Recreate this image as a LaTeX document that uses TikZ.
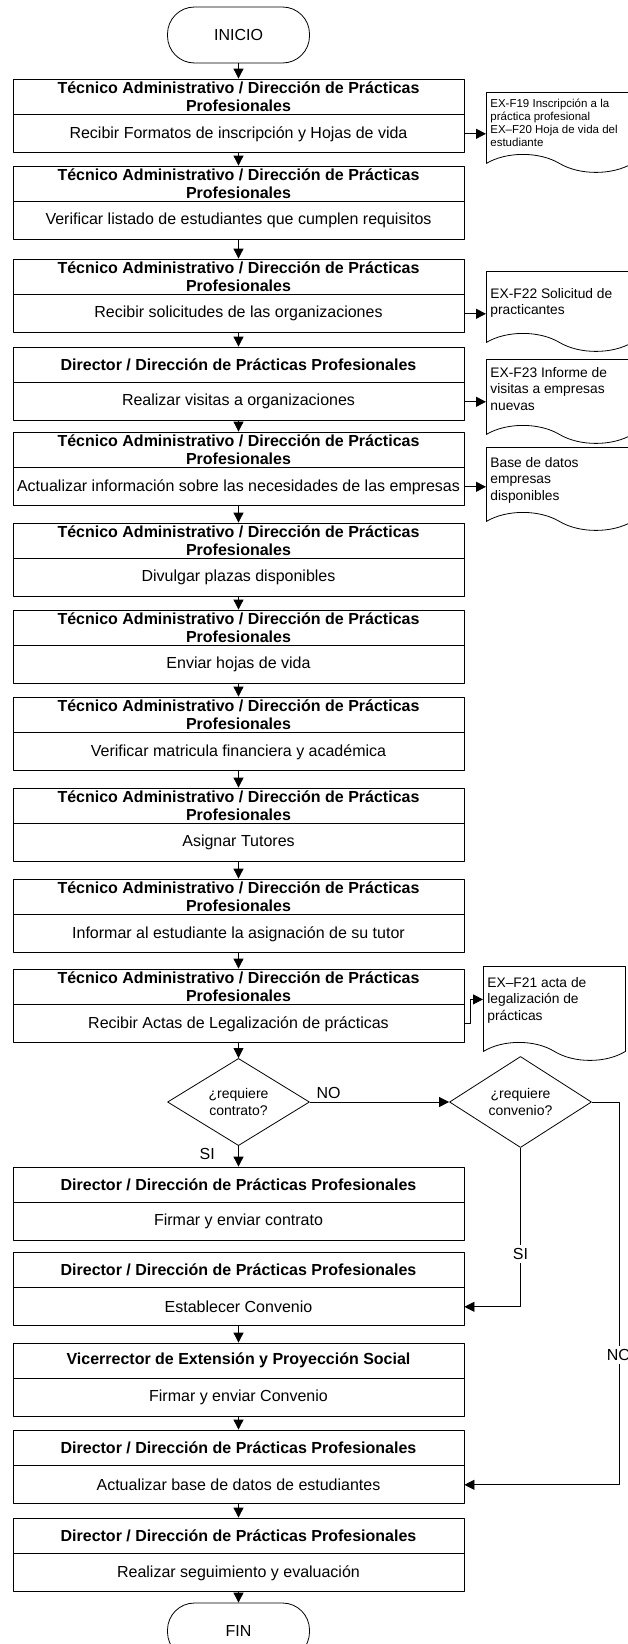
\documentclass[tikz,border=0pt]{standalone}
\usepackage{fontspec}
\setmainfont{Liberation Sans}
\usetikzlibrary{arrows.meta,shapes.geometric,shapes.symbols}
\tikzset{
  head/.style={draw,minimum width=451pt,minimum height=35pt,inner sep=0pt,align=center,font=\fontsize{16}{18}\selectfont\bfseries},
  body/.style={draw,anchor=north,minimum width=451pt,minimum height=38pt,inner sep=0pt,font=\fontsize{16}{18}\selectfont},
  term/.style={draw,rounded corners=27pt,minimum width=142pt,minimum height=56pt,font=\fontsize{16}{18}\selectfont},
  decision/.style={draw,diamond,minimum width=142pt,minimum height=84pt,inner sep=0pt,align=center,font=\fontsize{14}{17}\selectfont},
  doc/.style={draw,tape,tape bend top=none,tape bend bottom=out and in,tape bend height=18pt,anchor=north west,minimum width=146pt,inner sep=0pt},
  doctext/.style={anchor=north west,inner sep=0pt,align=left,font=\fontsize{13.8}{16.5}\selectfont},
  lbl/.style={font=\fontsize{16}{18}\selectfont}
}
\begin{document}
\begin{tikzpicture}[x=1pt,y=-1pt,>={Triangle[length=10pt,width=10pt]},line width=0.8pt,line join=round]
\useasboundingbox (0,0) rectangle (628,1644);
\node[term] (ini) at (238.5,35) {INICIO};
\node[head] (h1) at (238.5,96.5) {Técnico Administrativo / Dirección de Prácticas\\Profesionales};
\node[body] (b1) at (h1.south) {Recibir Formatos de inscripción y Hojas de vida};
\node[head] (h2) at (238.5,183.5) {Técnico Administrativo / Dirección de Prácticas\\Profesionales};
\node[body] (b2) at (h2.south) {Verificar listado de estudiantes que cumplen requisitos};
\node[head] (h3) at (238.5,276.5) {Técnico Administrativo / Dirección de Prácticas\\Profesionales};
\node[body] (b3) at (h3.south) {Recibir solicitudes de las organizaciones};
\node[head] (h4) at (238.5,364.5) {Director / Dirección de Prácticas Profesionales};
\node[body] (b4) at (h4.south) {Realizar visitas a organizaciones};
\node[head] (h5) at (238.5,449.5) {Técnico Administrativo / Dirección de Prácticas\\Profesionales};
\node[body] (b5) at (h5.south) {Actualizar información sobre las necesidades de las empresas};
\node[head] (h6) at (238.5,540.5) {Técnico Administrativo / Dirección de Prácticas\\Profesionales};
\node[body] (b6) at (h6.south) {Divulgar plazas disponibles};
\node[head] (h7) at (238.5,627.5) {Técnico Administrativo / Dirección de Prácticas\\Profesionales};
\node[body] (b7) at (h7.south) {Enviar hojas de vida};
\node[head] (h8) at (238.5,714.5) {Técnico Administrativo / Dirección de Prácticas\\Profesionales};
\node[body] (b8) at (h8.south) {Verificar matricula financiera y académica};
\node[head] (h9) at (238.5,805.5) {Técnico Administrativo / Dirección de Prácticas\\Profesionales};
\node[body] (b9) at (h9.south) {Asignar Tutores};
\node[head] (h10) at (238.5,896.5) {Técnico Administrativo / Dirección de Prácticas\\Profesionales};
\node[body] (b10) at (h10.south) {Informar al estudiante la asignación de su tutor};
\node[head] (h11) at (238.5,986.5) {Técnico Administrativo / Dirección de Prácticas\\Profesionales};
\node[body] (b11) at (h11.south) {Recibir Actas de Legalización de prácticas};
\node[decision] (q1) at (238.5,1102) {¿requiere\\contrato?};
\node[decision] (q2) at (520.5,1102) {¿requiere\\convenio?};
\node[head] (h12) at (238.5,1184.5) {Director / Dirección de Prácticas Profesionales};
\node[body] (b12) at (h12.south) {Firmar y enviar contrato};
\node[head] (h13) at (238.5,1269.5) {Director / Dirección de Prácticas Profesionales};
\node[body] (b13) at (h13.south) {Establecer Convenio};
\node[head] (h14) at (238.5,1360.5) {Vicerrector de Extensión y Proyección Social};
\node[body] (b14) at (h14.south) {Firmar y enviar Convenio};
\node[head] (h15) at (238.5,1447.5) {Director / Dirección de Prácticas Profesionales};
\node[body] (b15) at (h15.south) {Actualizar base de datos de estudiantes};
\node[head] (h16) at (238.5,1535.5) {Director / Dirección de Prácticas Profesionales};
\node[body] (b16) at (h16.south) {Realizar seguimiento y evaluación};
\node[term] (fin) at (238.5,1631) {FIN};
\node[doc,minimum height=80pt] (d1) at (486,92) {};
\node[doctext,font=\fontsize{11.5}{13}\selectfont] (t1) at (490,98.6) {EX-F19 Inscripción a la\\práctica profesional\\EX–F20 Hoja de vida del\\estudiante};
\node[doc,minimum height=80pt] (d2) at (486,271) {};
\node[doctext] (t2) at (490,287.7) {EX-F22 Solicitud de\\practicantes};
\node[doc,minimum height=84pt] (d3) at (486,359) {};
\node[doctext] (t3) at (490,366.7) {EX-F23 Informe de\\visitas a empresas\\nuevas};
\node[doc,minimum height=83pt] (d4) at (486,447) {};
\node[doctext] (t4) at (490,456.7) {Base de datos\\empresas\\disponibles};
\node[doc,minimum height=94pt,minimum width=142pt] (d5) at (483,966) {};
\node[doctext] (t5) at (487,976.7) {EX–F21 acta de\\legalización de\\prácticas};
\draw[->] (ini) -- (h1);
\draw[->] (b1) -- (h2);
\draw[->] (b2) -- (h3);
\draw[->] (b3) -- (h4);
\draw[->] (b4) -- (h5);
\draw[->] (b5) -- (h6);
\draw[->] (b6) -- (h7);
\draw[->] (b7) -- (h8);
\draw[->] (b8) -- (h9);
\draw[->] (b9) -- (h10);
\draw[->] (b10) -- (h11);
\draw[->] (b11) -- (q1);
\draw[->] (b1.east) -- (b1.east -| d1.west);
\draw[->] (b3.east) -- (b3.east -| d2.west);
\draw[->] (b4.east) -- (b4.east -| d3.west);
\draw[->] (b5.east) -- (b5.east -| d4.west);
\draw[->] (b11.east) -- ++(6,0) |- ([yshift=5pt]d5.west);
\draw[->] (q1.east) -- node[lbl,above,pos=0.135]{NO} (q2.west);
\draw[->] (q1.south) -- node[lbl,left=20pt,pos=0.4]{SI} (h12.north);
\draw[->] (q2.south) |- node[lbl,pos=0.335,fill=white]{SI} (b13.east);
\draw[->] (q2.east) -- ++(27,0) |- node[lbl,pos=0.331,fill=white]{NO} (b15.east);
\draw[->] (b13) -- (h14);
\draw[->] (b14) -- (h15);
\draw[->] (b15) -- (h16);
\draw[->] (b16) -- (fin);
\end{tikzpicture}
\end{document}
